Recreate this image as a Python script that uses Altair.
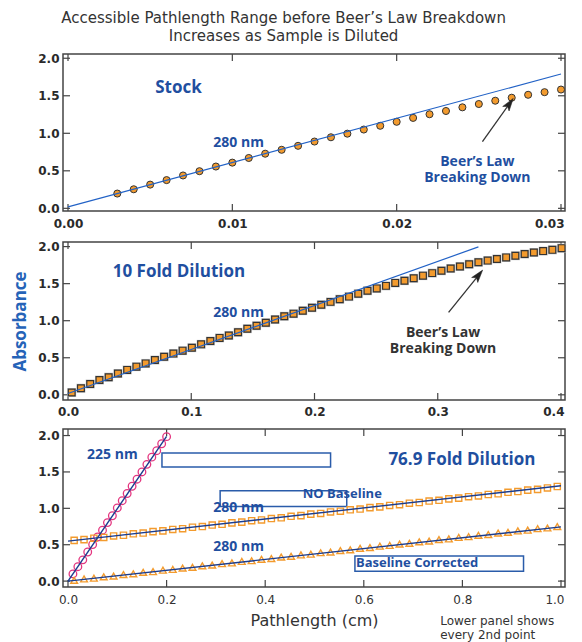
import altair as alt
import pandas as pd

# ---------------- data ----------------
# Panel 1: Stock (280 nm)
stock_x = [round(0.003 + 0.001 * i, 3) for i in range(28)]
stock_y = [0.197, 0.254, 0.316, 0.376, 0.438, 0.495, 0.557, 0.609, 0.671, 0.728,
           0.780, 0.833, 0.890, 0.947, 0.995, 1.050, 1.100, 1.153, 1.205, 1.254,
           1.297, 1.346, 1.390, 1.434, 1.474, 1.513, 1.548, 1.583]
stock_fit_x = [0.0, 0.030]
stock_fit_y = [0.020, 1.790]

# Panel 2: 10 fold dilution (280 nm)
dil10_x = [round(0.003 + 0.0075 * i, 4) for i in range(54)]
dil10_y = [0.031, 0.089, 0.146, 0.199, 0.238, 0.287, 0.336, 0.380, 0.424, 0.469,
           0.513, 0.556, 0.596, 0.636, 0.681, 0.725, 0.768, 0.800, 0.844, 0.892,
           0.932, 0.972, 1.016, 1.060, 1.095, 1.135, 1.175, 1.215, 1.254, 1.290,
           1.325, 1.364, 1.404, 1.436, 1.470, 1.510, 1.540, 1.572, 1.608, 1.642,
           1.674, 1.705, 1.731, 1.762, 1.788, 1.811, 1.833, 1.854, 1.877, 1.899,
           1.921, 1.939, 1.956, 1.979]
dil10_fit_x = [0.0, 0.333]
dil10_fit_y = [0.018, 1.996]

# Panel 3: 76.9 fold dilution
nm225_x = [round(0.01 * (i + 1), 2) for i in range(20)]
nm225_y = [0.099, 0.198, 0.292, 0.400, 0.503, 0.606, 0.700, 0.804, 0.898, 1.006,
           1.105, 1.204, 1.303, 1.400, 1.500, 1.604, 1.703, 1.792, 1.887, 1.985]
nm225_fit_x = [0.0, 0.2]
nm225_fit_y = [0.0, 1.99]

nm280_x = [round(0.0125 + 0.02 * i, 4) for i in range(50)]
nobase_y = [0.56, 0.57, 0.59, 0.60, 0.62, 0.63, 0.65, 0.66, 0.68, 0.69,
            0.71, 0.72, 0.74, 0.75, 0.77, 0.78, 0.80, 0.81, 0.83, 0.84,
            0.86, 0.87, 0.89, 0.90, 0.92, 0.93, 0.95, 0.96, 0.98, 0.99,
            1.01, 1.02, 1.04, 1.05, 1.07, 1.08, 1.10, 1.11, 1.13, 1.14,
            1.16, 1.17, 1.19, 1.20, 1.22, 1.23, 1.25, 1.26, 1.28, 1.30]
nobase_fit_x = [0.0, 1.0]
nobase_fit_y = [0.55, 1.31]
corr_y = [0.01, 0.03, 0.04, 0.06, 0.07, 0.09, 0.10, 0.12, 0.13, 0.15,
          0.16, 0.18, 0.19, 0.21, 0.22, 0.24, 0.25, 0.27, 0.28, 0.30,
          0.31, 0.33, 0.34, 0.36, 0.37, 0.39, 0.40, 0.42, 0.43, 0.45,
          0.46, 0.48, 0.49, 0.51, 0.52, 0.54, 0.55, 0.57, 0.58, 0.60,
          0.61, 0.63, 0.64, 0.66, 0.67, 0.69, 0.70, 0.72, 0.73, 0.75]
corr_fit_x = [0.0, 1.0]
corr_fit_y = [0.0, 0.745]

y_ticks = [0.0, 0.5, 1.0, 1.5, 2.0]
x_ticks_1 = [0.0, 0.01, 0.02, 0.03]
x_ticks_2 = [0.0, 0.1, 0.2, 0.3, 0.4]
x_ticks_3 = [0.0, 0.2, 0.4, 0.6, 0.8, 1.0]

title_lines = ["Accessible Pathlength Range before Beer\u2019s Law Breakdown",
               "Increases as Sample is Diluted"]

# ---------------- styles ----------------
W = 502
FRAME = "#444444"
BLUE_TXT = "#1F4FA0"
LINE_BLUE = "#2262C6"
NAVY = "#1B3D8F"
ORANGE = "#F39B2E"
MAGENTA = "#E4357F"
TXT_FONT = "Open Sans"
TL = 7


def xdomain(lo, hi):
    u = (hi - lo) / (W - 9)
    return [lo - 5 * u, hi + 4 * u]


def make_axis_x(ticks, fmt, pad, bold=True, title=None):
    kw = dict(values=ticks, format=fmt, labelFont="DejaVu Sans", labelFontSize=12,
              labelFontWeight="bold" if bold else "normal",
              labelColor="#2a2a2a" if bold else "#333333", labelPadding=pad,
              labelFlush=4.5, labelFlushOffset=3, labelOverlap=False,
              ticks=False, domain=False, grid=False)
    if title:
        kw.update(title=title, titleFont="DejaVu Sans", titleFontSize=16,
                  titleFontWeight="normal", titleColor="#333333", titlePadding=7)
    else:
        kw.update(title=None)
    return alt.Axis(**kw)


def make_axis_y(title=None):
    kw = dict(values=y_ticks, format=".1f", labelFont="DejaVu Sans",
              labelFontSize=12, labelFontWeight="bold", labelColor="#2a2a2a",
              labelPadding=4, labelFlush=False, labelOverlap=False,
              ticks=False, domain=False, grid=False)
    if title:
        kw.update(title=title, titleFont=TXT_FONT, titleFontSize=17,
                  titleFontWeight="bold", titleColor="#2563B8", titlePadding=8)
    else:
        kw.update(title=None)
    return alt.Axis(**kw)


class Panel:
    def __init__(self, xdom, ydom, xaxis, yaxis, H):
        self.xs = alt.Scale(domain=xdom, nice=False, zero=False)
        self.ys = alt.Scale(domain=ydom, nice=False, zero=False)
        self.xa = xaxis
        self.ya = yaxis
        self.H = H

    def X(self, f):
        return alt.X(f, scale=self.xs, axis=self.xa)

    def Y(self, f):
        return alt.Y(f, scale=self.ys, axis=self.ya)

    def ticks(self, xt):
        xdf = pd.DataFrame({"v": xt})
        ydf = pd.DataFrame({"v": y_ticks})
        base = dict(color=FRAME, strokeWidth=1.2)
        H = self.H
        return [
            alt.Chart(xdf).mark_rule(**base).encode(
                x=self.X("v:Q"), y=alt.value(0), y2=alt.value(TL)),
            alt.Chart(xdf).mark_rule(**base).encode(
                x=self.X("v:Q"), y=alt.value(H - TL), y2=alt.value(H)),
            alt.Chart(ydf).mark_rule(**base).encode(
                y=self.Y("v:Q"), x=alt.value(0), x2=alt.value(TL)),
            alt.Chart(ydf).mark_rule(**base).encode(
                y=self.Y("v:Q"), x=alt.value(W - TL), x2=alt.value(W)),
        ]

    def text(self, rows, color, size, align="center", weight="bold",
             font=TXT_FONT, line_height=16):
        df = pd.DataFrame(rows, columns=["x", "y", "label"])
        return alt.Chart(df).mark_text(
            font=font, fontSize=size, fontWeight=weight, color=color,
            align=align, baseline="middle", lineBreak="\n", lineHeight=line_height
        ).encode(x=self.X("x:Q"), y=self.Y("y:Q"), text="label:N")

    def arrow(self, x0, y0, xc, yc, angle):
        df = pd.DataFrame({"x": [x0], "y": [y0], "x2": [xc], "y2": [yc]})
        shaft = alt.Chart(df).mark_rule(color="#333333", strokeWidth=1.3).encode(
            x=self.X("x:Q"), y=self.Y("y:Q"), x2="x2:Q", y2="y2:Q")
        head = alt.Chart(df).mark_point(
            shape="M0,-1L0.62,1L0,0.55L-0.62,1Z", filled=True, fill="#222222",
            stroke="#222222", strokeWidth=0.5, size=160, angle=angle, opacity=1
        ).encode(x=self.X("x2:Q"), y=self.Y("y2:Q"))
        return [shaft, head]

    def line(self, xv, yv, color, width):
        df = pd.DataFrame({"x": xv, "y": yv})
        return alt.Chart(df).mark_line(color=color, strokeWidth=width).encode(
            x=self.X("x:Q"), y=self.Y("y:Q"))

    def points(self, xv, yv, **mk):
        df = pd.DataFrame({"x": xv, "y": yv})
        return alt.Chart(df).mark_point(opacity=1, **mk).encode(
            x=self.X("x:Q"), y=self.Y("y:Q"))


# ---------------- panel 1 ----------------
H1 = 157
P1 = Panel(xdomain(0.0, 0.03), [-0.0355, 2.0566],
           make_axis_x(x_ticks_1, ".2f", 7), make_axis_y(), H1)
p1 = alt.layer(
    *P1.ticks(x_ticks_1),
    P1.points(stock_x, stock_y, shape="circle", filled=True, fill=ORANGE,
              stroke="#333333", strokeWidth=1, size=50),
    P1.line(stock_fit_x, stock_fit_y, LINE_BLUE, 1.2),
    P1.text([(0.00672, 1.605, "Stock")], BLUE_TXT, 17),
    P1.text([(0.01038, 0.869, "280 nm")], BLUE_TXT, 14),
    P1.text([(0.02491, 0.616, "Beer\u2019s Law\nBreaking Down")], BLUE_TXT, 14),
    *P1.arrow(0.02522, 0.889, 0.02687, 1.396, 35.5),
).properties(width=W, height=H1)

# ---------------- panel 2 ----------------
H2 = 158
P2 = Panel(xdomain(0.0, 0.4), [-0.070, 2.062],
           make_axis_x(x_ticks_2, ".1f", 6), make_axis_y("Absorbance"), H2)
p2 = alt.layer(
    *P2.ticks(x_ticks_2),
    P2.points(dil10_x, dil10_y, shape="square", filled=True, fill="#c4c4c4",
              strokeWidth=0, size=80),
    P2.points(dil10_x, dil10_y, shape="square", filled=True, fill=ORANGE,
              stroke="#333333", strokeWidth=1.2, size=46),
    P2.line(dil10_fit_x, dil10_fit_y, LINE_BLUE, 1.2),
    P2.text([(0.0900, 1.655, "10 Fold Dilution")], BLUE_TXT, 17),
    P2.text([(0.1384, 1.105, "280 nm")], BLUE_TXT, 14),
    P2.text([(0.3043, 0.834, "Beer\u2019s Law\nBreaking Down")], "#333333", 14),
    *P2.arrow(0.3088, 1.113, 0.3332, 1.616, 38.8),
).properties(width=W, height=H2)

# ---------------- panel 3 ----------------
H3 = 158
P3 = Panel(xdomain(0.0, 1.0), [-0.081, 2.090],
           make_axis_x(x_ticks_3, ".1f", 7, bold=False, title="Pathlength (cm)"),
           make_axis_y(), H3)

boxes = pd.DataFrame({
    "x": [0.1906, 0.3086, 0.582],
    "x2": [0.5326, 0.5654, 0.924],
    "y": [1.761, 1.240, 0.346],
    "y2": [1.567, 1.024, 0.135],
})
p3_boxes = alt.Chart(boxes).mark_rect(
    fill="white", fillOpacity=0, stroke="#2A5CAA", strokeWidth=1.5
).encode(x=P3.X("x:Q"), x2="x2:Q", y=P3.Y("y:Q"), y2="y2:Q")

p3 = alt.layer(
    *P3.ticks(x_ticks_3),
    p3_boxes,
    P3.points(nm225_x, nm225_y, shape="circle", filled=False, stroke=MAGENTA,
              strokeWidth=1.3, size=58),
    P3.points(nm280_x, nobase_y, shape="square", filled=False, stroke=ORANGE,
              strokeWidth=1.4, size=38),
    P3.points(nm280_x, corr_y, shape="triangle-up", filled=False, stroke=ORANGE,
              strokeWidth=1.4, size=46),
    P3.line(nm225_fit_x, nm225_fit_y, NAVY, 1.4),
    P3.line(nobase_fit_x, nobase_fit_y, NAVY, 1.4),
    P3.line(corr_fit_x, corr_fit_y, NAVY, 1.4),
    P3.text([(0.09, 1.738, "225 nm"), (0.346, 1.011, "280 nm"),
             (0.346, 0.469, "280 nm")], BLUE_TXT, 14),
    P3.text([(0.799, 1.662, "76.9 Fold Dilution")], BLUE_TXT, 17),
    P3.text([(0.476, 1.20, "NO Baseline"), (0.584, 0.243, "Baseline Corrected")],
            BLUE_TXT, 13, align="left"),
    P3.text([(0.755, -0.548, "Lower panel shows\nevery 2nd point")], "#333333", 12,
            align="left", weight="normal", font="DejaVu Sans", line_height=14),
).properties(width=W, height=H3)

chart = alt.vconcat(p1, p2, p3, spacing=9).resolve_scale(
    x="independent", y="independent"
).properties(
    title=alt.TitleParams(text=title_lines, font="DejaVu Sans", fontSize=15,
                          fontWeight="normal", color="#333333", anchor="middle",
                          lineHeight=18, offset=7, dx=-6),
    padding={"left": 2, "top": 3, "right": 0, "bottom": 0},
).configure_view(stroke=FRAME, strokeWidth=1.5)

chart.save("out.html", embed_options={"renderer": "svg", "actions": False})
